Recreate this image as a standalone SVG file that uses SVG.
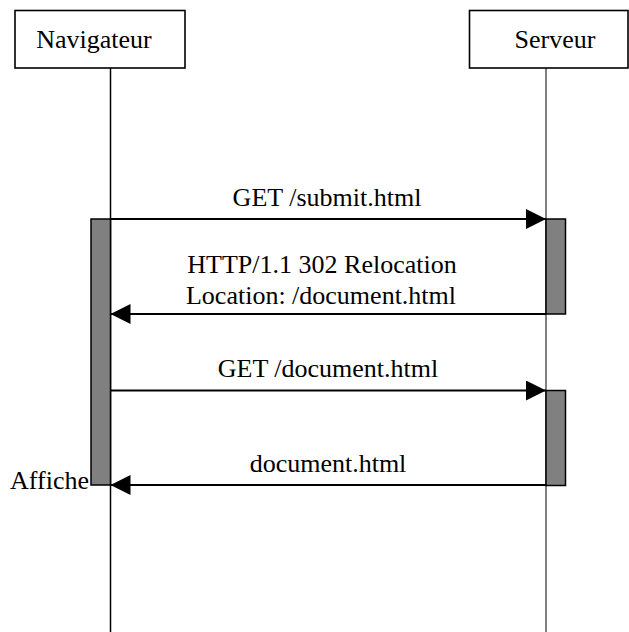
<svg xmlns="http://www.w3.org/2000/svg" width="629" height="632" viewBox="0 0 629 632">
  <style>
    .box { fill: #ffffff; stroke: #000000; stroke-width: 1.6; }
    .bar { fill: #808080; stroke: #000000; stroke-width: 1.5; }
    .life { stroke: #000000; fill: none; }
    .msg { stroke: #000000; stroke-width: 2; fill: none; }
    .lbl { font-family: "Liberation Serif", "Times New Roman", serif; font-size: 26px; fill: #000000; }
    .mid { text-anchor: middle; }
  </style>
  <defs>
    <marker id="head" viewBox="0 0 20 20" refX="20" refY="10" markerWidth="20" markerHeight="20" markerUnits="userSpaceOnUse" orient="auto">
      <path d="M0,0 L20,10 L0,20 Z" fill="#000000"/>
    </marker>
  </defs>
  <rect width="629" height="632" fill="#ffffff"/>

  <!-- lifelines -->
  <g id="lifelines">
    <line class="life" x1="110.5" y1="68" x2="110.5" y2="632" stroke-width="1.5"/>
    <line class="life" x1="546" y1="68" x2="546" y2="632" stroke-width="1"/>
  </g>

  <!-- participants -->
  <g id="navigateur">
    <rect class="box" x="15" y="10.5" width="170" height="57.5"/>
    <text class="lbl mid" x="94" y="48">Navigateur</text>
  </g>
  <g id="serveur">
    <rect class="box" x="469.5" y="10.5" width="158.5" height="57.5"/>
    <text class="lbl mid" x="555" y="48">Serveur</text>
  </g>

  <!-- activation bars -->
  <g id="activations">
    <rect class="bar" x="91" y="219" width="19.5" height="266"/>
    <rect class="bar" x="546" y="219" width="19.5" height="95"/>
    <rect class="bar" x="546" y="390.5" width="19.5" height="95"/>
  </g>

  <!-- messages -->
  <g id="connectors">
    <line class="msg" x1="110.5" y1="219" x2="546" y2="219" marker-end="url(#head)"/>
    <line class="msg" x1="546" y1="314" x2="110.5" y2="314" marker-end="url(#head)"/>
    <line class="msg" x1="110.5" y1="390.5" x2="546" y2="390.5" marker-end="url(#head)"/>
    <line class="msg" x1="546" y1="485" x2="110.5" y2="485" marker-end="url(#head)"/>
  </g>

  <g id="labels">
    <text class="lbl mid" x="327" y="206">GET /submit.html</text>
    <text class="lbl mid" x="322" y="273">HTTP/1.1 302 Relocation</text>
    <text class="lbl mid" x="321" y="303.5">Location: /document.html</text>
    <text class="lbl mid" x="328" y="377">GET /document.html</text>
    <text class="lbl mid" x="328" y="471.5">document.html</text>
    <text class="lbl" x="89" y="489" text-anchor="end">Affiche</text>
  </g>
</svg>
